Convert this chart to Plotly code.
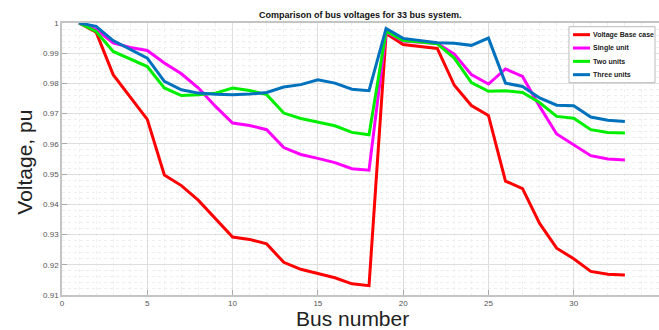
import plotly.graph_objects as go

# Bus voltage profiles (pu) of the 33-bus feeder for each case
bus = list(range(1, 34))

v_base = [1.0000, 0.9970, 0.9829, 0.9755, 0.9681, 0.9497, 0.9462, 0.9413, 0.9351,
          0.9292, 0.9284, 0.9269, 0.9208, 0.9185, 0.9171, 0.9157, 0.9137, 0.9131,
          0.9965, 0.9929, 0.9922, 0.9916, 0.9794, 0.9727, 0.9694, 0.9477, 0.9452,
          0.9337, 0.9255, 0.9220, 0.9178, 0.9169, 0.9166]

v_single = [1.0000, 0.9978, 0.9934, 0.9919, 0.9909, 0.9868, 0.9832, 0.9785, 0.9724,
            0.9669, 0.9661, 0.9647, 0.9588, 0.9565, 0.9552, 0.9538, 0.9518, 0.9513,
            0.9970, 0.9940, 0.9936, 0.9932, 0.9897, 0.9829, 0.9798, 0.9848, 0.9823,
            0.9724, 0.9633, 0.9597, 0.9561, 0.9550, 0.9547]

v_two = [1.0000, 0.9972, 0.9906, 0.9881, 0.9856, 0.9785, 0.9760, 0.9763, 0.9768,
         0.9785, 0.9777, 0.9763, 0.9702, 0.9684, 0.9671, 0.9660, 0.9638, 0.9630,
         0.9973, 0.9942, 0.9937, 0.9931, 0.9884, 0.9803, 0.9774, 0.9776, 0.9770,
         0.9737, 0.9691, 0.9685, 0.9647, 0.9638, 0.9636]

v_three = [1.0000, 0.9989, 0.9942, 0.9914, 0.9884, 0.9807, 0.9779, 0.9768, 0.9764,
           0.9763, 0.9765, 0.9770, 0.9788, 0.9796, 0.9812, 0.9801, 0.9781, 0.9776,
           0.9982, 0.9949, 0.9942, 0.9935, 0.9933, 0.9926, 0.9950, 0.9801, 0.9790,
           0.9752, 0.9728, 0.9726, 0.9689, 0.9678, 0.9674]

series = [
    ("Voltage Base case", v_base, "#ff0000"),
    ("Single unit", v_single, "#ff00ff"),
    ("Two units", v_two, "#00ee00"),
    ("Three units", v_three, "#0072bd"),
]

x_ticks = [0, 5, 10, 15, 20, 25, 30, 35]
y_ticks = [0.91, 0.92, 0.93, 0.94, 0.95, 0.96, 0.97, 0.98, 0.99, 1.0]
y_ticktext = ["0.91", "0.92", "0.93", "0.94", "0.95", "0.96", "0.97", "0.98", "0.99", "1"]

FONT = "Liberation Sans, Arial, sans-serif"

fig = go.Figure()
for name, vals, color in series:
    fig.add_trace(go.Scatter(x=bus, y=vals, mode="lines", name=name,
                             line=dict(color=color, width=3), showlegend=False))

axis_common = dict(
    showline=True, mirror=True, linecolor="#c4c4c4", linewidth=1.5,
    ticks="inside", ticklen=5, tickcolor="#aaaaaa",
    showgrid=True, gridcolor="#dedede", gridwidth=1,
    zeroline=False, automargin=False,
    tickfont=dict(family=FONT, size=8, color="#555555"),
)

fig.update_xaxes(range=[0, 35], tickvals=x_ticks,
                 minor=dict(dtick=1, showgrid=True, gridcolor="#eeeeee",
                            griddash="dot", ticks=""),
                 **axis_common)
fig.update_yaxes(range=[0.91, 1.0], tickvals=y_ticks, ticktext=y_ticktext,
                 minor=dict(dtick=0.002, showgrid=True, gridcolor="#eeeeee",
                            griddash="dot", ticks=""),
                 **axis_common)

# Compact legend box in the top-right corner of the axes
leg_x0, leg_x1 = 0.8492, 0.9933
leg_y0, leg_y1 = 0.7805, 0.9864
fig.add_shape(type="rect", xref="paper", yref="paper",
              x0=leg_x0, x1=leg_x1, y0=leg_y0, y1=leg_y1,
              fillcolor="white", line=dict(color="#bbbbbb", width=1), layer="above")
row_y = [0.957, 0.908, 0.859, 0.810]
for (name, _, color), ry in zip(series, row_y):
    fig.add_shape(type="line", xref="paper", yref="paper",
                  x0=0.8559, x1=0.8844, y0=ry, y1=ry,
                  line=dict(color=color, width=3), layer="above")
    fig.add_annotation(text=f"<b>{name}</b>", xref="paper", yref="paper",
                       x=0.8861, y=ry, xanchor="left", yanchor="middle",
                       showarrow=False,
                       font=dict(family=FONT, size=7, color="#222222"))

fig.add_annotation(text="<b>Comparison of bus voltages for 33 bus system.</b>",
                   xref="paper", yref="paper", x=0.5008, y=1.029,
                   xanchor="center", yanchor="middle", showarrow=False,
                   font=dict(family=FONT, size=9, color="#111111"))
fig.add_annotation(text="Voltage, pu", xref="paper", yref="paper",
                   x=-0.062, y=0.49, textangle=-90,
                   xanchor="center", yanchor="middle", showarrow=False,
                   font=dict(family=FONT, size=21, color="#222222"))
fig.add_annotation(text="Bus number", xref="paper", yref="paper",
                   x=0.4874, y=-0.088, xanchor="center", yanchor="middle",
                   showarrow=False,
                   font=dict(family=FONT, size=21, color="#222222"))

fig.update_layout(
    width=659, height=330,
    margin=dict(l=62, r=0, t=23, b=35, autoexpand=False),
    paper_bgcolor="white", plot_bgcolor="white",
    template="none",
    showlegend=False,
)

fig.write_html("out.html")
